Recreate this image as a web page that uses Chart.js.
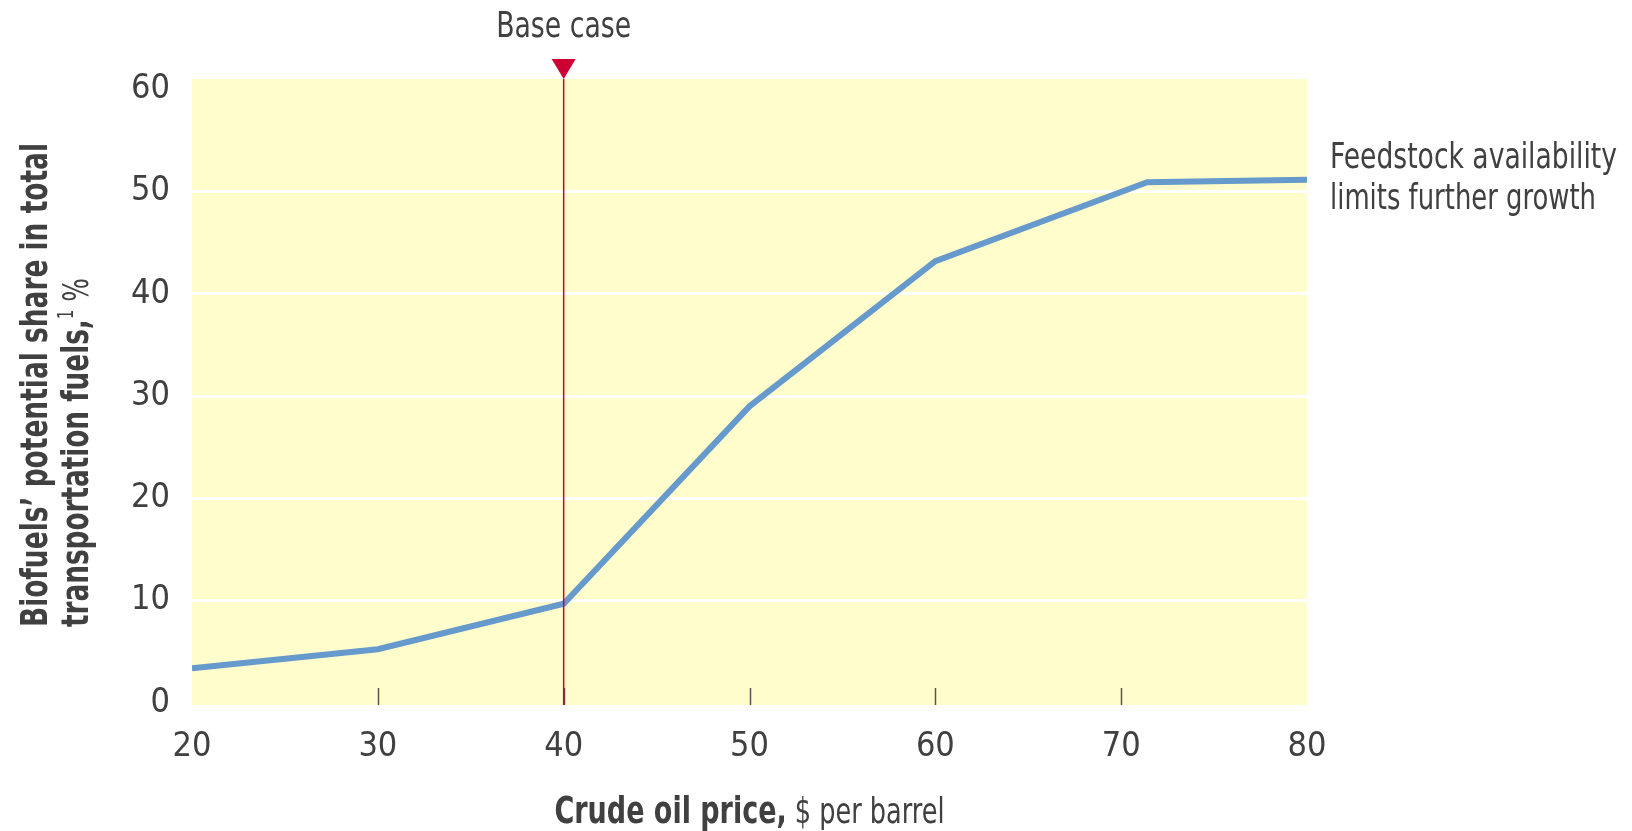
<!DOCTYPE html>
<html>
<head>
<meta charset="utf-8">
<script src="https://cdn.jsdelivr.net/npm/chart.js@4"></script>
<style>
  html, body { margin: 0; padding: 0; background: #fff; }
  #wrap { width: 1632px; height: 831px; }
</style>
</head>
<body>
<div id="wrap"><canvas id="myChart" width="1632" height="831"></canvas></div>
<script>
// Chart values
const prices = [20, 30, 40, 50, 60, 71.4, 80];            // $ per barrel
const shares = [3.4, 5.25, 9.7, 29.0, 43.2, 50.9, 51.15]; // % of transport fuels
const xTicks = [20, 30, 40, 50, 60, 70, 80];
const yTicks = [0, 10, 20, 30, 40, 50, 60];
const baseCase = 40;

const FONT = "'Liberation Sans Narrow', 'Arial Narrow', 'DejaVu Sans Condensed', sans-serif";
const TEXT = '#404040';

// draw a run of text pieces squeezed to a given width (the reference uses a condensed face)
function drawRun(ctx, parts, x, y, align, width)
{
    let total = 0;
    parts.forEach(p => { ctx.font = p.font; p.w = ctx.measureText(p.text).width; total += p.w; });
    const sx = width ? width / total : 1;
    let x0 = x;
    if (align === 'center') x0 = x - total * sx / 2;
    ctx.save();
    ctx.translate(x0, y);
    ctx.scale(sx, 1);
    ctx.textAlign = 'left';
    ctx.textBaseline = 'alphabetic';
    let cx = 0;
    parts.forEach(p => {
        ctx.font = p.font;
        ctx.fillText(p.text, cx, p.dy || 0);
        cx += p.w;
    });
    ctx.restore();
}

// Background, base-case marker, inner ticks and all free text
const decor =
{
    id: 'decor',
    beforeDraw(chart)
    {
        const a = chart.chartArea, ctx = chart.ctx;
        ctx.save();
        ctx.fillStyle = '#FFFDCB';
        ctx.fillRect(a.left, a.top, a.right - a.left, a.bottom - a.top);
        ctx.restore();
    },
    afterDatasetsDraw(chart)
    {
        const a = chart.chartArea, ctx = chart.ctx;
        const x = chart.scales.x;

        ctx.save();
        // inward tick marks on the bottom edge
        ctx.strokeStyle = '#555';
        ctx.lineWidth = 1.5;
        xTicks.slice(1, -1).forEach(v => {
            const px = Math.round(x.getPixelForValue(v)) + 0.5;
            ctx.beginPath();
            ctx.moveTo(px, a.bottom - 17);
            ctx.lineTo(px, a.bottom);
            ctx.stroke();
        });

        // base case line and triangle
        const bx = x.getPixelForValue(baseCase);
        ctx.strokeStyle = '#CC0033';
        ctx.lineWidth = 1.5;
        ctx.beginPath();
        ctx.moveTo(bx, a.top);
        ctx.lineTo(bx, a.bottom);
        ctx.stroke();
        ctx.fillStyle = '#CC0033';
        ctx.beginPath();
        ctx.moveTo(bx - 12, a.top - 20);
        ctx.lineTo(bx + 12, a.top - 20);
        ctx.lineTo(bx, a.top);
        ctx.closePath();
        ctx.fill();

        ctx.fillStyle = TEXT;
        const N = '36px ' + FONT, B = 'bold 38px ' + FONT;

        drawRun(ctx, [{ text: 'Base case', font: N }], bx, 37, 'center', 135);

        // right side note
        drawRun(ctx, [{ text: 'Feedstock availability', font: N }], a.right + 23, 168, 'left', 287);
        drawRun(ctx, [{ text: 'limits further growth', font: N }], a.right + 23, 209, 'left', 266);

        // x axis title (bold part + normal part)
        drawRun(ctx, [
            { text: 'Crude oil price,', font: B },
            { text: ' $ per barrel', font: N }
        ], (a.left + a.right) / 2, 823, 'center', 390);

        // y axis title, two rotated lines, left aligned at the bottom
        ctx.save();
        ctx.translate(47, 627);
        ctx.rotate(-Math.PI / 2);
        drawRun(ctx, [{ text: 'Biofuels\u2019 potential share in total', font: B }], 0, 0, 'left', 484);
        ctx.restore();

        ctx.save();
        ctx.translate(88, 627);
        ctx.rotate(-Math.PI / 2);
        drawRun(ctx, [
            { text: 'transportation fuels,', font: B },
            { text: '1', font: '22px ' + FONT, dy: -15 },
            { text: ' %', font: N }
        ], 0, 0, 'left', 349);
        ctx.restore();

        ctx.restore();
    }
};

let myChart = document.getElementById('myChart').getContext('2d');

let chart_1 = new Chart(myChart,
{
    type: 'line',
    data:
    {
        datasets:
        [
            {
                label: 'Biofuels share',
                data: prices.map((p, i) => ({ x: p, y: shares[i] })),
                borderColor: '#6699CC',
                borderWidth: 6,
                pointRadius: 0,
                tension: 0,
                fill: false
            }
        ]
    },
    options:
    {
        responsive: false,
        animation: false,
        devicePixelRatio: 1,
        layout: { padding: { top: 79, right: 325, bottom: 0, left: 0 } },
        plugins:
        {
            legend: { display: false },
            tooltip: { enabled: false }
        },
        scales:
        {
            x:
            {
                type: 'linear',
                min: 20,
                max: 80,
                afterBuildTicks: s => { s.ticks = xTicks.map(v => ({ value: v })); },
                afterFit: s => { s.height = 126; },
                grid: { display: false },
                border: { display: false },
                ticks:
                {
                    padding: 14,
                    color: TEXT,
                    font: { family: FONT, size: 34 },
                    maxRotation: 0
                }
            },
            y:
            {
                min: -0.2,
                max: 61,
                afterBuildTicks: s => { s.ticks = yTicks.map(v => ({ value: v })); },
                afterFit: s => { s.width = 192; },
                grid:
                {
                    drawTicks: false,
                    lineWidth: 3,
                    color: c => (c.tick && c.tick.value > 0 && c.tick.value < 60) ? '#ffffff' : 'rgba(0,0,0,0)'
                },
                border: { display: false },
                ticks:
                {
                    padding: 22,
                    color: TEXT,
                    font: { family: FONT, size: 34 }
                }
            }
        }
    },
    plugins: [decor]
});
</script>
</body>
</html>
